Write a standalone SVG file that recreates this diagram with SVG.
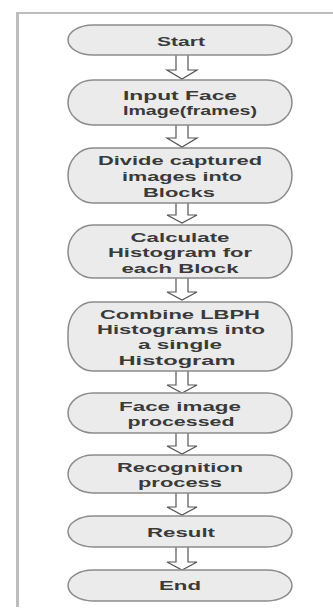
<svg xmlns="http://www.w3.org/2000/svg" width="333" height="609" viewBox="0 0 333 609">
<defs>
<style>
.frame{stroke:#bdbdbd;fill:none}
.node{fill:#ebebeb;stroke:#8c8c8c;stroke-width:1.5}
.lbl{font-family:"Liberation Sans",Arial,sans-serif;font-weight:bold;font-size:13px;fill:#3a3a3a;text-anchor:middle}
.arr{fill:#ffffff;stroke:#555555;stroke-width:1.2;stroke-linejoin:miter}
</style>
</defs>
<rect width="333" height="609" fill="#ffffff"/>
<line class="frame" x1="16" y1="13" x2="333" y2="13" stroke-width="2"/>
<line class="frame" x1="17.5" y1="12" x2="17.5" y2="607" stroke-width="3"/>

<g id="connectors">
<path class="arr" d="M176,55 V70 H167 L182,79 L197,70 H188 V55"/>
<path class="arr" d="M176,125 V138 H167 L182,147 L197,138 H188 V125"/>
<path class="arr" d="M176,203 V215 H167 L182,223 L197,215 H188 V203"/>
<path class="arr" d="M176,278 V292 H167 L182,300 L197,292 H188 V278"/>
<path class="arr" d="M176,371 V385 H167 L182,393 L197,385 H188 V371"/>
<path class="arr" d="M176,433 V446 H167 L182,454 L197,446 H188 V433"/>
<path class="arr" d="M176,493 V507 H167 L182,515 L197,507 H188 V493"/>
<path class="arr" d="M176,547 V562 H167 L182,570 L197,562 H188 V547"/>
</g>

<g id="start">
<rect class="node" x="68" y="25" width="224" height="30" rx="25" ry="30"/>
<text class="lbl" x="181" y="45.5" textLength="48" lengthAdjust="spacingAndGlyphs">Start</text>
</g>
<g id="input">
<rect class="node" x="68" y="80" width="224" height="45" rx="25" ry="30"/>
<text class="lbl" x="180" y="100" textLength="114" lengthAdjust="spacingAndGlyphs">Input Face</text>
<text class="lbl" x="190" y="115" textLength="134" lengthAdjust="spacingAndGlyphs">Image(frames)</text>
</g>
<g id="divide">
<rect class="node" x="68" y="148" width="224" height="55" rx="25" ry="30"/>
<text class="lbl" x="180" y="165" textLength="164" lengthAdjust="spacingAndGlyphs">Divide captured</text>
<text class="lbl" x="182" y="181" textLength="120" lengthAdjust="spacingAndGlyphs">images into</text>
<text class="lbl" x="179" y="197" textLength="72" lengthAdjust="spacingAndGlyphs">Blocks</text>
</g>
<g id="calculate">
<rect class="node" x="68" y="225" width="224" height="53" rx="25" ry="30"/>
<text class="lbl" x="180" y="242" textLength="99" lengthAdjust="spacingAndGlyphs">Calculate</text>
<text class="lbl" x="180" y="257" textLength="144" lengthAdjust="spacingAndGlyphs">Histogram for</text>
<text class="lbl" x="180" y="273" textLength="117" lengthAdjust="spacingAndGlyphs">each Block</text>
</g>
<g id="combine">
<rect class="node" x="68" y="302" width="224" height="69" rx="25" ry="30"/>
<text class="lbl" x="180" y="319" textLength="160" lengthAdjust="spacingAndGlyphs">Combine LBPH</text>
<text class="lbl" x="181" y="334" textLength="168" lengthAdjust="spacingAndGlyphs">Histograms into</text>
<text class="lbl" x="180" y="349" textLength="84" lengthAdjust="spacingAndGlyphs">a single</text>
<text class="lbl" x="177" y="365" textLength="117" lengthAdjust="spacingAndGlyphs">Histogram</text>
</g>
<g id="processed">
<rect class="node" x="68" y="393" width="224" height="40" rx="25" ry="30"/>
<text class="lbl" x="180" y="411" textLength="122" lengthAdjust="spacingAndGlyphs">Face image</text>
<text class="lbl" x="181" y="426" textLength="107" lengthAdjust="spacingAndGlyphs">processed</text>
</g>
<g id="recognition">
<rect class="node" x="68" y="455" width="224" height="38" rx="25" ry="30"/>
<text class="lbl" x="180" y="472" textLength="126" lengthAdjust="spacingAndGlyphs">Recognition</text>
<text class="lbl" x="180" y="487" textLength="84" lengthAdjust="spacingAndGlyphs">process</text>
</g>
<g id="result">
<rect class="node" x="68" y="516" width="224" height="31" rx="25" ry="30"/>
<text class="lbl" x="181" y="536.5" textLength="68" lengthAdjust="spacingAndGlyphs">Result</text>
</g>
<g id="end">
<rect class="node" x="68" y="570" width="224" height="31" rx="25" ry="30"/>
<text class="lbl" x="180" y="590" textLength="42" lengthAdjust="spacingAndGlyphs">End</text>
</g>
</svg>
